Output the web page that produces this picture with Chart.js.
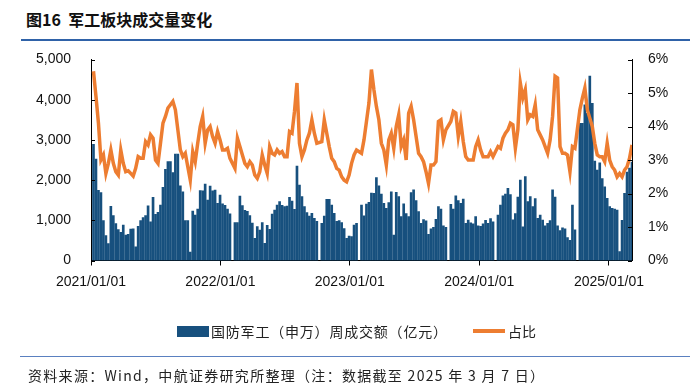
<!DOCTYPE html>
<html>
<head>
<meta charset="utf-8">
<script src="https://cdn.jsdelivr.net/npm/chart.js@4"></script>
<style>
  html, body { margin: 0; padding: 0; background: #fff; }
  #wrap { position: relative; width: 700px; height: 391px; overflow: hidden; font-family: "Noto Sans CJK SC", "Liberation Sans", sans-serif; }
  #chart { position: absolute; left: 0; top: 0; }
  .title { position: absolute; left: 26px; top: 7px; font-size: 16px; font-weight: bold; color: #111; white-space: nowrap; }
  .rule-top { position: absolute; left: 21px; top: 39px; width: 669px; height: 2px; background: #2f62a8; }
  .rule-bottom { position: absolute; left: 20px; top: 356px; width: 670px; height: 1px; background: #5a80c0; }
  .source { position: absolute; left: 28px; top: 365px; font-size: 14px; letter-spacing: 1.3px; color: #222; white-space: nowrap; }
  .legend { position: absolute; top: 322px; font-size: 14px; color: #222; white-space: nowrap; line-height: 18px; }
  .swatch-bar { position: absolute; left: 177px; top: 326px; width: 32px; height: 11px; background: #17507e; }
  .swatch-line { position: absolute; left: 473px; top: 329px; width: 32px; height: 4px; background: #ed7d31; }
</style>
</head>
<body>
<div id="wrap">
  <div class="title">图16&nbsp;&nbsp;军工板块成交量变化</div>
  <div class="rule-top"></div>
  <canvas id="chart" width="700" height="391"></canvas>
  <div class="swatch-bar"></div>
  <div class="legend" style="left:211px; letter-spacing:0.8px">国防军工（申万）周成交额（亿元）</div>
  <div class="swatch-line"></div>
  <div class="legend" style="left:508px">占比</div>
  <div class="rule-bottom"></div>
  <div class="source">资料来源：Wind，中航证券研究所整理（注：数据截至 2025 年 3 月 7 日）</div>
</div>
<script>
// 周度数据：2021-01-08 起，每周五一条，至 2025-03-07
const firstWeek = '2021-01-08';
const yearLabels = ['2021/01/01', '2022/01/01', '2023/01/01', '2024/01/01', '2025/01/01'];

// 国防军工（申万）周成交额（亿元），null 为休市周
const volume = [
    2890, 2520, 1745, 1690, 990, 620, 420,
    1350, 1120, 920, 770, 700, 880, 630, 650, 780, 790,
    340,
    850, 990, 1070, 1120, 1360, 965, 1570, 1150, 1200, 1380, 1820, 2270, 2460, 2460, 2190, 2650, 2650, 1860, 1710, 990, 990, 210, 1230, 1130, 1280, 1740,
    1730, 1900, 1500, 1850, 1730, 1750, 1420, 1630, 1410, 1370, 1280, 1160,
    null,
    941, 941, 1605, 1364, 1248, 1223, 1115, 933, 552, 842, 759, 941, 427, 875, 775, 1157, 1256, 1381, 1464, 1372, 1339, 1356, 1572, 1480, 1273, 2351, 1878, 1588, 1339, 1190, 1107, 1173, 1049, 975,
    null,
    925, 1107, 1522, 1522, 1381, 1173, 975, 990, 941, 792, 552, 609, 593, 883, 925,
    null,
    1380, 1110, 1405, 1450, 1680, 1670, 2060, 1860, 1650, 1420, 1300, 1440, 1710,
    635,
    1695, 1590, 1090, 1410, 1165, 1090, 1690, 1760,
    1490, 1215, 925, 1015, 985, 650, 790, 825, 1025, 1340, 1280, 865, 825,
    null,
    1400, 1280, 1610, 1490, 1420, 1530, 925, 1005, 940, 915, 1090, 865, 850, 915, 1000, 925, 1040, 960,
    null,
    1130, 1380, 1610, 1650, 1795, 1640, 1010, 1170, 1580, 2000, 840, 2085,
    1465, 1590, 1340, 1540, 1050, 1130, 1005, 865, 925, 990, 1755, 1580, 860, 745, 815, 785, 570, 500, 1380, 760,
    null,
    3410, 3410, 3870, 3660, 4590, 3910, 2475, 2250, 2430, 2040, 1835, 1545, 1340, 1300, 1280, 1255,
    220,
    1000, 1670, 2200, 2300, 2450
];

// 占比（%）
const ratio = [
    5.65, 4.9, 4.1, 3.0, 3.15, 2.6, 2.9, 3.3, 2.9, 2.65, 2.55, 3.3, 2.9, 2.65, 2.68, 2.6, 2.52, 2.75, 3.1, 3.05,
    3.05, 3.55, 3.45, 3.75, 3.65, 3.0, 2.9, 3.5, 4.1, 4.3, 4.55, 4.65, 4.75, 4.5, 3.9, 3.3, 3.1, 3.2, 2.8, 2.4,
    3.25, 2.95, 3.5, 4.0, 4.3, 3.5, 3.9, 4.0, 3.7, 3.5, 3.85, 3.6, 3.3, 3.3, 3.35, 3.05,
    null,
    2.75, 3.65, 3.4, 3.15, 2.9, 2.8, 2.95, 2.85, 2.55, 2.45, 2.65, 3.15, 2.85, 2.6, 3.4, 3.2, 3.15, 3.3, 3.2, 3.25,
    3.1, 3.1, 3.85, 3.8, 4.45, 5.3, 3.5, 3.1, 3.3, 3.6, 3.8, 4.2, 3.8, 3.5,
    null,
    3.55, 4.2, 3.8, 3.4, 3.05, 2.95, 2.75, 2.7, 2.5, 2.4, 2.35, 2.55, 2.9, 3.15, 3.3,
    null,
    3.2, 3.6, 4.15, 4.7, 5.7, 5.1, 4.6, 4.2, 3.5, 3.3, 2.85, 3.6, 3.8, 3.35, 4.0, 4.35, 3.4, 3.6, 3.0, 4.4,
    4.6, 4.2, 3.7, 3.2, 3.1, 2.95, 2.65, 2.3, 2.85, 2.85, 2.95, 4.15, 4.2, 3.6, 3.9,
    null,
    4.15, 4.45, 4.4, 3.7, 4.15, 3.55, 3.1, 3.0, 3.0, 3.0, 3.4, 3.6, 3.3, 3.1, 3.1, 3.1, 3.25, 3.1,
    null,
    3.4, 3.35, 3.65, 3.8, 3.9, 4.1, 4.05, 3.35, 3.9, 5.3, 4.85, 5.1, 4.2, 4.35, 4.3, 4.65, 3.9, 3.75, 3.6, 3.4,
    3.2, 3.6, 4.3, 5.5, 5.45, 3.4, 3.2, 3.2, 3.15, 2.65, 3.4, 3.35,
    null,
    4.5, 4.85, 5.15, 4.5, 4.25, 4.0, 3.5, 3.15, 3.1, 3.1, 2.95, 3.5, 3.0, 2.8, 2.7, 2.5, 2.6, 2.5, 2.7, 2.8,
    3.05, 3.45
];

const weekMs = 7 * 24 * 3600 * 1000;
const t0 = Date.parse(firstWeek);
const yearPos = yearLabels.map(s => (Date.parse(s.replace(/\//g, '-')) - t0) / weekMs);
const lastIdx = volume.length - 1;

const tickFont = { family: '"Liberation Sans", Arial, sans-serif', size: 14 };

// 坐标轴向内的小刻度
const innerTicks = {
    id: 'innerTicks',
    afterDraw(chart) {
        const ctx = chart.ctx;
        const a = chart.chartArea;
        ctx.save();
        ctx.strokeStyle = '#000';
        ctx.lineWidth = 1;
        chart.scales.y.ticks.forEach(t => {
            const py = Math.round(chart.scales.y.getPixelForValue(t.value)) + 0.5;
            ctx.beginPath(); ctx.moveTo(a.left, py); ctx.lineTo(a.left + 4, py); ctx.stroke();
        });
        chart.scales.y1.ticks.forEach(t => {
            const py = Math.round(chart.scales.y1.getPixelForValue(t.value)) + 0.5;
            ctx.beginPath(); ctx.moveTo(a.right - 4, py); ctx.lineTo(a.right, py); ctx.stroke();
        });
        ctx.restore();
    }
};

new Chart(document.getElementById('chart'), {
    data: {
        datasets: [{
            type: 'line',
            label: '占比',
            data: ratio.map((v, i) => ({ x: i, y: v })),
            yAxisID: 'y1',
            borderColor: '#ed7d31',
            borderWidth: 3.5,
            pointRadius: 0,
            tension: 0,
            spanGaps: true,
            order: 0
        }, {
            type: 'bar',
            label: '国防军工（申万）周成交额（亿元）',
            data: volume.map((v, i) => ({ x: i, y: v })),
            yAxisID: 'y',
            backgroundColor: '#17507e',
            barThickness: 2,
            order: 1
        }]
    },
    options: {
        responsive: false,
        animation: false,
        layout: { padding: { top: 59.5, bottom: 95.5, left: 0, right: 0 } },
        plugins: { legend: { display: false }, tooltip: { enabled: false } },
        scales: {
            x: {
                type: 'linear',
                offset: false,
                min: -1,
                max: lastIdx,
                afterBuildTicks: s => { s.ticks = yearPos.map(v => ({ value: v })); },
                afterFit: s => { s.height = 35; },
                ticks: {
                    autoSkip: false,
                    maxRotation: 0,
                    padding: 8,
                    color: '#111',
                    font: tickFont,
                    callback: (v, i) => yearLabels[i]
                },
                grid: { drawOnChartArea: false, drawTicks: true, tickLength: 5, color: '#000', offset: false },
                border: { display: true, color: '#000', width: 1 }
            },
            y: {
                position: 'left',
                min: 0,
                max: 5000,
                afterFit: s => { s.width = 91; },
                ticks: {
                    stepSize: 1000,
                    padding: 20,
                    color: '#111',
                    font: tickFont,
                    callback: v => v.toLocaleString('en-US')
                },
                grid: { display: false, drawTicks: false },
                border: { display: true, color: '#000', width: 1 }
            },
            y1: {
                position: 'right',
                min: 0,
                max: 6,
                afterFit: s => { s.width = 68; },
                ticks: {
                    stepSize: 1,
                    padding: 16,
                    color: '#111',
                    font: tickFont,
                    callback: v => v + '%'
                },
                grid: { display: false, drawTicks: false },
                border: { display: true, color: '#000', width: 1 }
            }
        }
    },
    plugins: [innerTicks]
});
</script>
</body>
</html>
